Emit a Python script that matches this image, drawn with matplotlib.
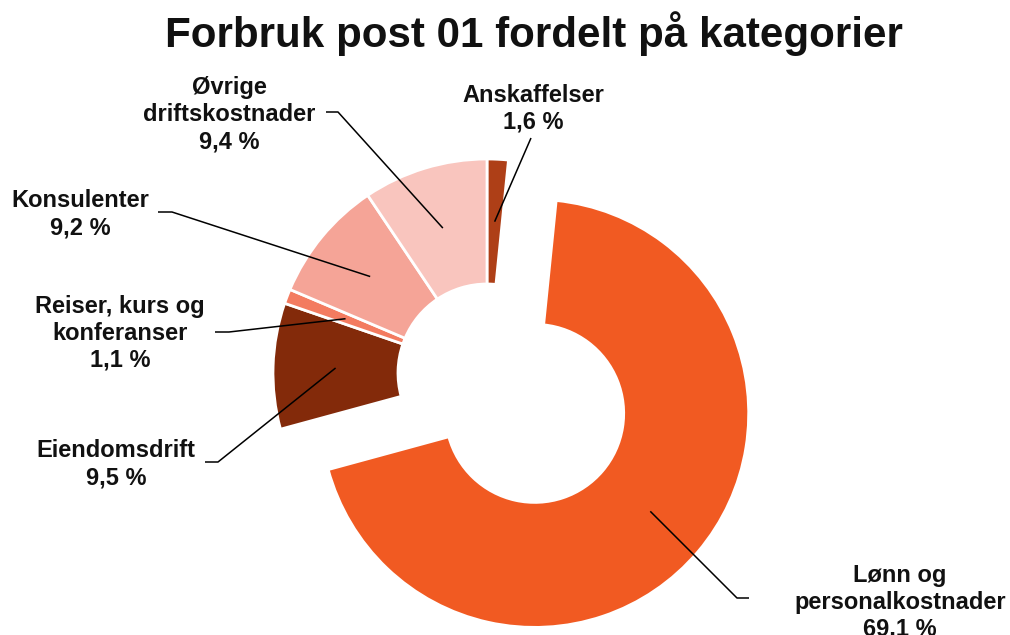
import numpy as np
import matplotlib.pyplot as plt

categories = ["Anskaffelser", "Lønn og\npersonalkostnader", "Eiendomsdrift",
              "Reiser, kurs og\nkonferanser", "Konsulenter", "Øvrige\ndriftskostnader"]
shares = [1.6, 69.1, 9.5, 1.1, 9.2, 9.4]
share_labels = ["1,6 %", "69.1 %", "9,5 %", "1,1 %", "9,2 %", "9,4 %"]
colors = ["#AE3F17", "#F15A22", "#832A0A", "#F37B60", "#F5A497", "#F9C5BE"]

W, H = 1010, 635

# label placement (pixel positions, last-line baseline) and leader elbows
label_xy = [(533, 129), (900, 636), (116, 484), (120, 367), (80, 234), (229, 148)]
leader_pts = [[(531, 138)],
              [(737, 598), (749, 598)],
              [(218, 462), (205, 462)],
              [(229, 332), (215, 332)],
              [(172, 212), (158, 212)],
              [(338, 112), (326, 112)]]

plt.rcParams['font.family'] = ['Liberation Sans', 'DejaVu Sans']
fig = plt.figure(figsize=(W / 100, H / 100), dpi=100)
ax = fig.add_axes([0, 0, 1, 1])

R, hole = 214, 89
center = (487, H - 373)
explode = [0, 62.5, 0, 0, 0, 0]
wedges, _ = ax.pie(shares, colors=colors, radius=R, center=center,
                   startangle=90, counterclock=False, explode=explode,
                   wedgeprops=dict(width=R - hole, edgecolor='white', linewidth=2))
ax.set_xlim(0, W)
ax.set_ylim(0, H)
ax.set_aspect('equal')
ax.axis('off')

for w, cat, pct, (lx, ly), pts in zip(wedges, categories, share_labels, label_xy, leader_pts):
    ang = np.deg2rad((w.theta1 + w.theta2) / 2)
    rm = w.r - w.width / 2
    ax0 = w.center[0] + rm * np.cos(ang)
    ay0 = w.center[1] + rm * np.sin(ang)
    xs = [ax0] + [p[0] for p in pts]
    ys = [ay0] + [H - p[1] for p in pts]
    ax.plot(xs, ys, color='black', lw=1.1, solid_capstyle='butt')
    ax.text(lx, H - ly, f"{cat}\n{pct}", ha='center', va='baseline',
            fontsize=17, fontweight='bold', linespacing=1.22, color='#111111')

fig.text(534 / W, 1 - 47 / H, "Forbruk post 01 fordelt på kategorier",
         ha='center', va='baseline', fontsize=30.3, fontweight='bold', color='#111111')

fig.savefig('out.png', dpi=100)
